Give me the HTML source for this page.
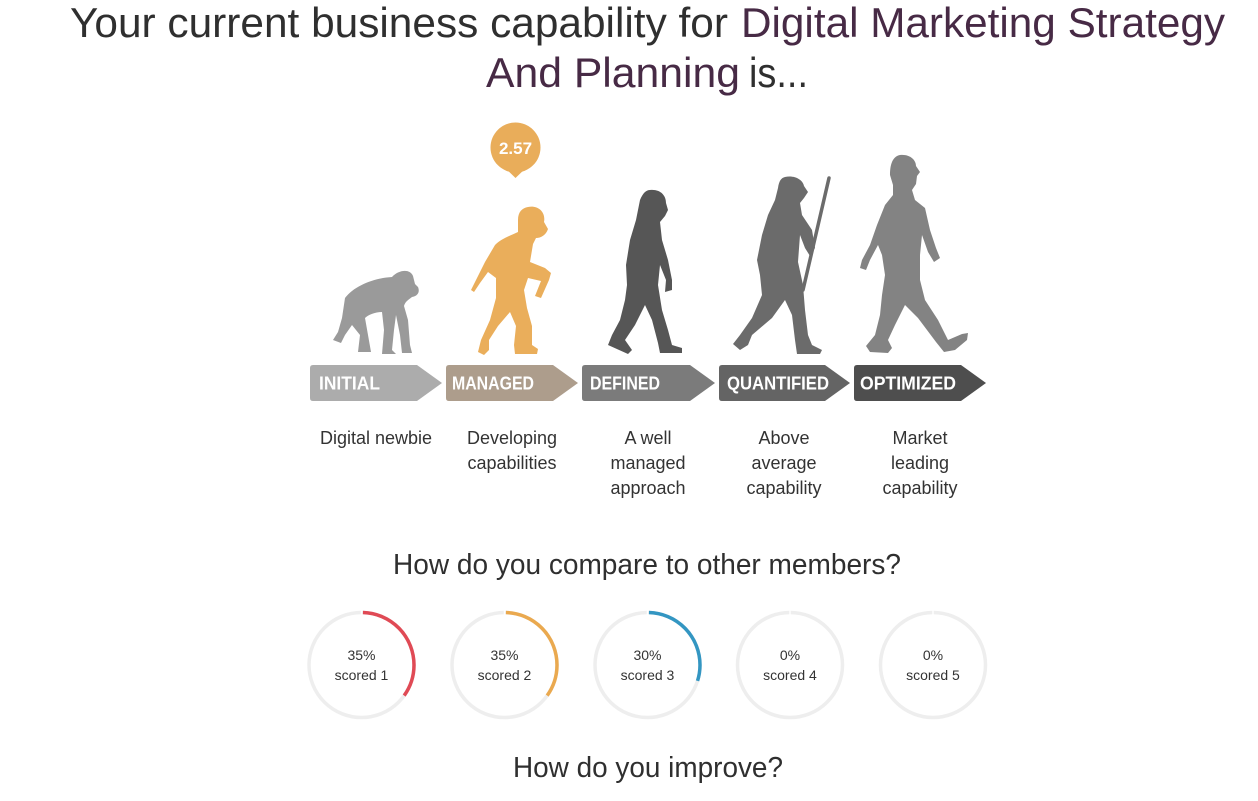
<!DOCTYPE html>
<html>
<head>
<meta charset="utf-8">
<style>
  html, body { margin: 0; padding: 0; background: #ffffff; }
  body { width: 1258px; height: 801px; overflow: hidden; }
  svg { display: block; }
  .t { font-family: "Liberation Sans", "DejaVu Sans", sans-serif; }
</style>
</head>
<body>
<svg width="1258" height="801" viewBox="0 0 1258 801" xmlns="http://www.w3.org/2000/svg">
  <rect width="1258" height="801" fill="#ffffff"/>

  <!-- Title -->
  <text class="t" x="70" y="37" font-size="42" fill="#2f2f2f" textLength="658" lengthAdjust="spacingAndGlyphs">Your current business capability for</text>
  <text class="t" x="741" y="37" font-size="42" fill="#472a45" textLength="484" lengthAdjust="spacingAndGlyphs">Digital Marketing Strategy</text>
  <text class="t" x="486" y="87" font-size="42" fill="#472a45" textLength="254" lengthAdjust="spacingAndGlyphs">And Planning</text>
  <text class="t" x="749" y="87" font-size="42" fill="#2f2f2f" textLength="59" lengthAdjust="spacingAndGlyphs">is...</text>

  <!-- Badge -->
  <circle cx="515.5" cy="147.5" r="25" fill="#e9ad5a"/>
  <polygon points="503,166 528,166 515.5,178" fill="#e9ad5a"/>
  <text class="t" x="515.5" y="154" font-size="17" font-weight="bold" fill="#ffffff" text-anchor="middle">2.57</text>

  <!-- Figure 1: chimp -->
  <path fill="#9a9a9a" d="M345 298 C355 285 375 278 392 277 C398 270 410 268 413 276 L415 284 L418 287 C420 292 418 296 412 297 C408 300 405 302 404 306 L408 320 L410 345 L412 353 L402 353 L400 335 L396 315 L394 330 L392 350 L396 354 L382 354 L384 330 L382 312 C375 312 368 315 365 318 L368 335 L371 352 L358 352 L360 335 L352 325 L345 335 L341 343 L333 340 L338 332 L342 318 Z"/>

  <!-- Figure 2: orange -->
  <path fill="#eaae5b" d="M528 207 C538 205 546 212 544 222 L548 229 C546 235 541 238 536 238 L533 244 L530 262 L545 268 L551 273 L549 280 L541 298 L535 296 L541 281 L528 278 L524 290 L527 308 L532 326 L532 345 L538 349 L537 354 L515 354 L514 345 L516 326 L510 312 L498 326 L489 340 L489 350 L484 355 L478 352 L481 340 L490 320 L496 298 L496 278 L488 272 L480 283 L474 292 L471 290 L476 280 L485 262 L495 245 C502 238 512 235 518 232 L518 220 C518 212 522 208 528 207 Z"/>

  <!-- Figure 3: dark -->
  <path fill="#565656" d="M650 190 C660 189 666 195 666 203 L668 210 L665 216 L660 222 L662 240 L668 260 L672 280 L672 290 L665 292 L666 280 L660 265 L658 285 L662 310 L668 330 L672 345 L682 348 L682 353 L660 353 L658 343 L652 320 L645 305 L635 325 L625 340 L632 350 L628 354 L608 345 L612 335 L620 320 L625 300 L627 285 L626 265 L630 240 L636 220 L640 200 C643 193 646 190 650 190 Z"/>

  <!-- Figure 4: with spear -->
  <line x1="829" y1="178" x2="803" y2="290" stroke="#6b6b6b" stroke-width="3.5" stroke-linecap="round"/>
  <path fill="#6b6b6b" d="M785 177 C795 175 803 180 804 186 L808 192 L804 198 L800 203 L802 215 L812 230 L815 248 L810 256 L805 248 L800 235 L798 262 L803 285 L805 310 L808 335 L812 345 L822 350 L820 354 L797 354 L795 340 L792 315 L785 300 L772 318 L752 335 L748 345 L740 350 L733 344 L740 335 L752 318 L762 295 L760 275 L757 260 L762 235 L768 215 L775 200 L778 188 C779 181 781 178 785 177 Z"/>

  <!-- Figure 5: modern man -->
  <path fill="#838383" d="M900 155 C910 154 916 160 916 166 L920 172 L917 176 L916 184 L912 190 L915 200 L925 208 L930 230 L936 248 L940 258 L934 262 L928 252 L922 235 L920 255 L920 280 L925 300 L938 320 L948 340 L962 334 L968 333 L967 340 L955 350 L944 352 L936 342 L918 318 L905 305 L895 325 L888 340 L892 348 L888 353 L870 352 L866 346 L875 335 L880 315 L882 295 L885 275 L882 255 L878 245 L870 260 L866 270 L860 268 L862 260 L870 245 L877 225 L885 205 L893 195 L893 185 L890 175 C890 162 894 156 900 155 Z"/>

  <!-- Chevrons -->
  <path fill="#acacac" d="M313 365 L417 365 L442 383 L417 401 L313 401 Q310 401 310 398 L310 368 Q310 365 313 365 Z"/>
  <path fill="#ad9d8c" d="M449 365 L553 365 L578 383 L553 401 L449 401 Q446 401 446 398 L446 368 Q446 365 449 365 Z"/>
  <path fill="#7b7b7b" d="M585 365 L690 365 L715 383 L690 401 L585 401 Q582 401 582 398 L582 368 Q582 365 585 365 Z"/>
  <path fill="#646464" d="M722 365 L825 365 L850 383 L825 401 L722 401 Q719 401 719 398 L719 368 Q719 365 722 365 Z"/>
  <path fill="#4e4e4e" d="M857 365 L961 365 L986 383 L961 401 L857 401 Q854 401 854 398 L854 368 Q854 365 857 365 Z"/>

  <g class="t" font-size="18" font-weight="bold" fill="#ffffff">
    <text x="319" y="389.5" textLength="61" lengthAdjust="spacingAndGlyphs">INITIAL</text>
    <text x="452" y="389.5" textLength="82" lengthAdjust="spacingAndGlyphs">MANAGED</text>
    <text x="590" y="389.5" textLength="70" lengthAdjust="spacingAndGlyphs">DEFINED</text>
    <text x="727" y="389.5" textLength="102" lengthAdjust="spacingAndGlyphs">QUANTIFIED</text>
    <text x="860" y="389.5" textLength="96" lengthAdjust="spacingAndGlyphs">OPTIMIZED</text>
  </g>

  <!-- Descriptions -->
  <g class="t" font-size="18" fill="#333333" text-anchor="middle">
    <text x="376" y="444">Digital newbie</text>
    <text x="512" y="444">Developing</text>
    <text x="512" y="469">capabilities</text>
    <text x="648" y="444">A well</text>
    <text x="648" y="469">managed</text>
    <text x="648" y="494">approach</text>
    <text x="784" y="444">Above</text>
    <text x="784" y="469">average</text>
    <text x="784" y="494">capability</text>
    <text x="920" y="444">Market</text>
    <text x="920" y="469">leading</text>
    <text x="920" y="494">capability</text>
  </g>

  <!-- Subheading -->
  <text class="t" x="393" y="574" font-size="29" fill="#2f2f2f" textLength="508" lengthAdjust="spacingAndGlyphs">How do you compare to other members?</text>

  <!-- Donut circles -->
  <g fill="none" stroke-width="3.5">
    <circle cx="361.5" cy="665" r="52.5" stroke="#eeeeee"/>
    <circle cx="504.5" cy="665" r="52.5" stroke="#eeeeee"/>
    <circle cx="647.5" cy="665" r="52.5" stroke="#eeeeee"/>
    <circle cx="790" cy="665" r="52.5" stroke="#eeeeee"/>
    <circle cx="933" cy="665" r="52.5" stroke="#eeeeee"/>
    <circle cx="361.5" cy="665" r="52.5" stroke="#e04a55" stroke-dasharray="113.5 400" stroke-dashoffset="-1.5" transform="rotate(-90 361.5 665)"/>
    <circle cx="504.5" cy="665" r="52.5" stroke="#eaa94f" stroke-dasharray="113.5 400" stroke-dashoffset="-1.5" transform="rotate(-90 504.5 665)"/>
    <circle cx="647.5" cy="665" r="52.5" stroke="#3396c2" stroke-dasharray="97 400" stroke-dashoffset="-1.5" transform="rotate(-90 647.5 665)"/>
  </g>
  <g fill="#ffffff">
    <rect x="360.8" y="609" width="1.4" height="6"/>
    <rect x="503.8" y="609" width="1.4" height="6"/>
    <rect x="646.8" y="609" width="1.4" height="6"/>
    <rect x="789.3" y="609" width="1.4" height="6"/>
    <rect x="932.3" y="609" width="1.4" height="6"/>
  </g>
  <g class="t" font-size="14" fill="#333333" text-anchor="middle">
    <text x="361.5" y="660">35%</text>
    <text x="361.5" y="680">scored 1</text>
    <text x="504.5" y="660">35%</text>
    <text x="504.5" y="680">scored 2</text>
    <text x="647.5" y="660">30%</text>
    <text x="647.5" y="680">scored 3</text>
    <text x="790" y="660">0%</text>
    <text x="790" y="680">scored 4</text>
    <text x="933" y="660">0%</text>
    <text x="933" y="680">scored 5</text>
  </g>

  <!-- Bottom heading -->
  <text class="t" x="513" y="777" font-size="29" fill="#2f2f2f" textLength="270" lengthAdjust="spacingAndGlyphs">How do you improve?</text>
</svg>
</body>
</html>
